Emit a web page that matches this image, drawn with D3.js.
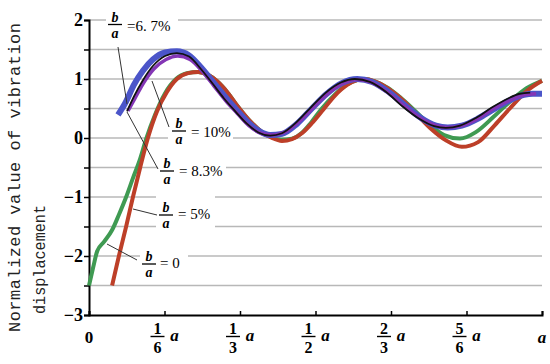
<!DOCTYPE html>
<html><head><meta charset="utf-8">
<script src="https://cdn.jsdelivr.net/npm/d3@7"></script>
<style>html,body{margin:0;padding:0;background:#fff;}svg{display:block;}
.serif{font-family:"Liberation Serif","Times New Roman",serif;}
.mono{font-family:"Liberation Mono","DejaVu Sans Mono",monospace;}
</style>
</head><body>
<svg id="c" width="550" height="364"></svg>
<script>
// ---- data (x in units of a) ----
const seriesNames = ["b/a=0", "b/a=5%", "b/a=10%", "b/a=8.3%", "b/a=6.7%"];

const x0 = [0.051,0.066,0.082,0.097,0.113,0.130,0.150,0.172,0.194,0.219,0.241,0.263,0.283,0.307,0.329,0.355,0.382,0.404,0.426,0.448,0.470,0.492,0.517,0.543,0.570,0.592,0.609,0.631,0.660,0.687,0.720,0.753,0.788,0.823,0.859,0.896,0.929,0.967,1.0];
const y0 = [-2.5,-2.0,-1.5,-1.0,-0.5,0,0.45,0.78,1.0,1.10,1.12,1.07,0.96,0.76,0.53,0.29,0.10,0.00,-0.05,-0.02,0.08,0.25,0.48,0.72,0.90,0.98,1.0,0.96,0.84,0.68,0.43,0.17,-0.04,-0.15,-0.07,0.22,0.50,0.80,0.97];

const x5 = [0,0.009,0.018,0.033,0.051,0.066,0.082,0.097,0.113,0.126,0.146,0.168,0.192,0.216,0.241,0.263,0.283,0.307,0.329,0.355,0.382,0.404,0.424,0.448,0.470,0.490,0.514,0.543,0.570,0.592,0.607,0.631,0.660,0.687,0.720,0.753,0.784,0.819,0.854,0.892,0.927,0.965,1.0];
const y5 = [-2.5,-2.2,-1.92,-1.76,-1.56,-1.3,-1.0,-0.68,-0.35,-0.02,0.4,0.76,1.0,1.10,1.12,1.07,0.96,0.76,0.53,0.29,0.10,0.01,-0.03,-0.01,0.09,0.26,0.50,0.74,0.91,0.98,1.0,0.96,0.85,0.69,0.46,0.22,0.05,-0.01,0.10,0.35,0.60,0.84,0.97];

const x10 = [0.064,0.082,0.099,0.119,0.141,0.168,0.194,0.221,0.247,0.274,0.298,0.322,0.349,0.375,0.400,0.426,0.459,0.492,0.525,0.558,0.592,0.625,0.660,0.698,0.733,0.766,0.792,0.823,0.859,0.894,0.929,0.960,0.980,1.0];
const y10 = [0.39,0.62,0.9,1.14,1.33,1.45,1.47,1.40,1.20,0.95,0.72,0.51,0.28,0.12,0.05,0.07,0.24,0.50,0.75,0.93,1.0,0.95,0.79,0.55,0.34,0.21,0.18,0.21,0.33,0.49,0.64,0.73,0.75,0.75];

const x83 = [0.086,0.102,0.121,0.143,0.170,0.196,0.223,0.249,0.276,0.302,0.327,0.353,0.380,0.404,0.430,0.461,0.494,0.528,0.561,0.592,0.625,0.660,0.698,0.733,0.766,0.792,0.823,0.859,0.894,0.929,0.960,0.987];
const y83 = [0.46,0.68,0.94,1.17,1.33,1.39,1.33,1.14,0.88,0.63,0.42,0.21,0.08,0.05,0.09,0.26,0.51,0.76,0.93,0.99,0.94,0.77,0.53,0.33,0.21,0.18,0.21,0.33,0.5,0.64,0.73,0.75];

const x67 = [0.084,0.099,0.119,0.141,0.168,0.194,0.221,0.247,0.274,0.298,0.322,0.349,0.375,0.400,0.426,0.457,0.490,0.523,0.556,0.587,0.620,0.656,0.693,0.728,0.762,0.788,0.819,0.854,0.890,0.925,0.951,0.974];
const y67 = [0.45,0.7,0.98,1.22,1.39,1.44,1.38,1.17,0.91,0.67,0.46,0.24,0.09,0.04,0.08,0.26,0.52,0.77,0.94,1.0,0.95,0.78,0.53,0.33,0.2,0.17,0.21,0.34,0.52,0.67,0.75,0.77];

const yTickValues = [-3,-2.5,-2,-1.5,-1,-0.5,0,0.5,1,1.5,2];
const yTickLabels = ["\u22123","","\u22122","","\u22121","","0","","1","","2"];
const xTickValues = [0,1/6,1/3,1/2,2/3,5/6,1];
const xTickNum = [null,"1","1","1","2","5",null];
const xTickDen = [null,"6","3","2","3","6",null];
const xTickPlain = ["0",null,null,null,null,null,"a"];
const yTitle1 = "Normalized value of vibration";
const yTitle2 = "displacement";
const annValues = ["=6. 7%", "= 10%", "= 8.3%", "= 5%", "= 0"];

// ---- chart ----
const svg = d3.select("#c");
const x = d3.scaleLinear().domain([0,1]).range([89,542]);
const y = d3.scaleLinear().domain([-3,2]).range([315,20]);

// gridlines
svg.append("g").selectAll("line").data(yTickValues.filter(v=>v>-3)).join("line")
  .attr("x1", x(0)).attr("x2", x(1)).attr("y1", d=>y(d)).attr("y2", d=>y(d))
  .attr("stroke", "#b8b8b8").attr("stroke-width", 1.5);

// label backgrounds (hide gridlines under annotations)
const boxes = [[106,8,72,32],[168,114,65,33],[158,155,68,29],[156,195,59,34],[140,246,48,32]];
svg.append("g").selectAll("rect").data(boxes).join("rect")
  .attr("x", d=>d[0]).attr("y", d=>d[1]).attr("width", d=>d[2]).attr("height", d=>d[3])
  .attr("fill", "#fff");

// axes
const yAxis = d3.axisLeft(y).tickValues(yTickValues).tickSize(5).tickFormat("");
const gy = svg.append("g").attr("transform", `translate(${x(0)},0)`).call(yAxis);
gy.select(".domain").attr("stroke", "#000").attr("stroke-width", 2);
gy.selectAll(".tick line").attr("stroke", "#000").attr("stroke-width", 1.5);

const xAxis = d3.axisTop(x).tickValues(xTickValues).tickSize(4).tickFormat("");
const gx = svg.append("g").attr("transform", `translate(0,${y(-3)})`).call(xAxis);
gx.select(".domain").attr("stroke", "#000").attr("stroke-width", 2);
gx.selectAll(".tick line").attr("stroke", "#000").attr("stroke-width", 1.5);

// y tick labels
svg.append("g").selectAll("text").data(yTickValues.map((v,i)=>({v, t:yTickLabels[i]})).filter(d=>d.t)).join("text")
  .attr("class","serif")
  .attr("x", 83).attr("y", d=>y(d.v)+6).attr("text-anchor","end")
  .style("font-weight","bold").style("font-size","18px").attr("fill","#000")
  .text(d=>d.t);

// x tick labels
const gxl = svg.append("g").attr("fill","#000");
xTickValues.forEach((v,i)=>{
  const cx = x(v);
  if (xTickPlain[i]) {
    gxl.append("text").attr("class","serif").attr("x", cx).attr("y", 343).attr("text-anchor","middle")
      .style("font-size","17px").style("font-weight","bold").style("font-style", xTickPlain[i]==="a" ? "italic" : "normal")
      .text(xTickPlain[i]);
  } else {
    const fx = cx - 7;
    const t = gxl.append("text").attr("class","serif").attr("text-anchor","middle")
      .style("font-size","16px").style("font-weight","bold");
    t.append("tspan").attr("x", fx).attr("y", 334).text(xTickNum[i]);
    t.append("tspan").attr("x", fx).attr("y", 353).text(xTickDen[i]);
    gxl.append("line").attr("x1", fx-7).attr("x2", fx+7).attr("y1", 336.5).attr("y2", 336.5).attr("stroke","#000").attr("stroke-width",1.4);
    gxl.append("text").attr("class","serif").attr("x", cx+10).attr("y", 341).attr("text-anchor","middle")
      .style("font-size","17px").style("font-weight","bold").style("font-style","italic").text("a");
  }
});

// y title
svg.append("text").attr("class","mono").attr("transform","translate(20,332) rotate(-90)")
  .style("font-size","17px").attr("fill","#222")
  .attr("textLength", 309).attr("lengthAdjust","spacing").text(yTitle1);
svg.append("text").attr("class","mono").attr("transform","translate(45,314) rotate(-90)")
  .style("font-size","17px").attr("fill","#222")
  .attr("textLength", 109).attr("lengthAdjust","spacingAndGlyphs").text(yTitle2);

// curves
const line = d3.line().x(d=>x(d[0])).y(d=>y(d[1])).curve(d3.curveMonotoneX);
const series = [
  {xs:x5, ys:y5, color:"#3f9a52", w:4},
  {xs:x0, ys:y0, color:"#bd3f28", w:4},
  {xs:x10, ys:y10, color:"#4b55c9", w:6},
  {xs:x83, ys:y83, color:"#8436b5", w:3.5},
  {xs:x67, ys:y67, color:"#111111", w:1.8}
];
svg.append("g").selectAll("path").data(series).join("path")
  .attr("d", s=>line(s.xs.map((v,i)=>[v, s.ys[i]])))
  .attr("fill","none").attr("stroke", s=>s.color).attr("stroke-width", s=>s.w)
  .attr("stroke-linejoin","round").attr("stroke-linecap","butt");

// leader lines
const leaders = [[118,47,127,104],[152,81,169,127],[127,112,158,169],[133,209,157,215],[107,244,137,260]];
svg.append("g").selectAll("line").data(leaders).join("line")
  .attr("x1", d=>d[0]).attr("y1", d=>d[1]).attr("x2", d=>d[2]).attr("y2", d=>d[3])
  .attr("stroke","#333").attr("stroke-width",1);

// annotation labels: b/a = value
const ann = [
  {cx:115, bar:24.5, vx:127, vy:31},
  {cx:179, bar:131, vx:191, vy:137},
  {cx:167, bar:171, vx:179, vy:176},
  {cx:166, bar:215, vx:178, vy:219},
  {cx:149, bar:264, vx:160, vy:268}
];
const ga = svg.append("g").attr("fill","#000");
ann.forEach((a,i)=>{
  const t = ga.append("text").attr("class","serif").attr("text-anchor","middle")
    .style("font-size","14px").style("font-weight","bold").style("font-style","italic");
  t.append("tspan").attr("x", a.cx).attr("y", a.bar-3).text("b");
  t.append("tspan").attr("x", a.cx).attr("y", a.bar+13).text("a");
  ga.append("line").attr("x1", a.cx-7).attr("x2", a.cx+7).attr("y1", a.bar).attr("y2", a.bar)
    .attr("stroke","#000").attr("stroke-width",1.3);
  ga.append("text").attr("class","serif").attr("x", a.vx).attr("y", a.vy).style("font-size","15px").text(annValues[i]);
});
</script>
</body></html>
